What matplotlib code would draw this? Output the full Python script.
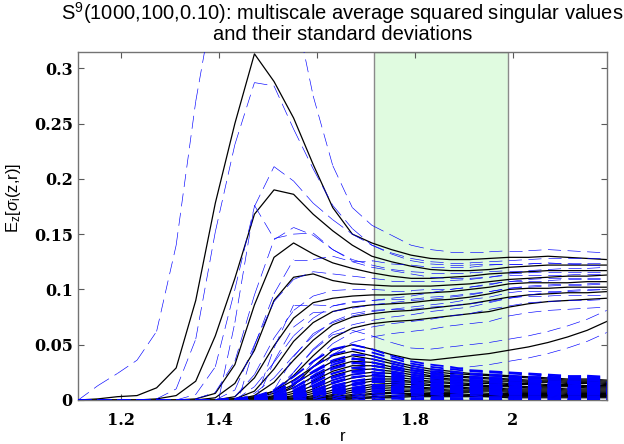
import numpy as np
import matplotlib
matplotlib.use("Agg")
import matplotlib.pyplot as plt
from matplotlib.collections import LineCollection

plt.rcParams['lines.scale_dashes'] = False
plt.rcParams['mathtext.fontset'] = 'custom'
plt.rcParams['mathtext.rm'] = 'Liberation Sans'
plt.rcParams['mathtext.it'] = 'Liberation Sans:italic'

# scales r (x axis)
r = [1.112, 1.152, 1.192, 1.232, 1.272, 1.312, 1.352, 1.392, 1.432, 1.472,
     1.512, 1.552, 1.592, 1.632, 1.672, 1.712, 1.752, 1.792, 1.832, 1.872,
     1.912, 1.952, 1.992, 2.032, 2.072, 2.112, 2.152, 2.192]

# average squared singular values, in units of 1e-3 (upper, separated curves)
top_means = [
    [0, 1, 3, 4, 11, 29, 90, 178, 250, 313, 288, 255, 213, 174, 150, 142, 136, 131, 128, 127, 127, 128, 129, 129, 130, 129, 128, 127],
    [0, 0, 0, 0, 1, 4, 17, 58, 110, 168, 190, 186, 168, 153, 140, 130, 125, 121, 118, 117, 117, 118, 120, 121, 122, 122, 122, 122],
    [0, 0, 0, 0, 0, 0, 1, 6, 32, 86, 129, 142, 132, 124, 119, 115, 112, 110, 110, 111, 112, 114, 115, 116, 117, 117, 117, 117],
    [0, 0, 0, 0, 0, 0, 0, 2, 15, 45, 90, 111, 114, 108, 105, 104, 103, 103, 103, 104, 105, 107, 109, 110, 111, 112, 112, 113],
    [0, 0, 0, 0, 0, 0, 0, 0, 3, 20, 49, 74, 88, 92, 94, 95, 95, 96, 97, 98, 100, 102, 105, 106, 106, 106, 107, 107],
    [0, 0, 0, 0, 0, 0, 0, 0, 1, 8, 28, 53, 70, 80, 84, 86, 87, 88, 90, 91, 93, 96, 100, 101, 101, 102, 102, 102],
    [0, 0, 0, 0, 0, 0, 0, 0, 0, 4, 16, 36, 54, 68, 75, 78, 80, 81, 83, 85, 87, 90, 93, 95, 96, 97, 97, 98],
    [0, 0, 0, 0, 0, 0, 0, 0, 0, 2, 8, 22, 40, 56, 65, 69, 71, 72, 74, 76, 78, 80, 84, 87, 89, 90, 91, 92],
    [0, 0, 0, 0, 0, 0, 0, 0, 0, 0, 3, 13, 30, 45, 50, 46, 41, 37, 36, 38, 40, 42, 45, 48, 52, 57, 63, 71],
]

# standard deviations of the curves above (1e-3)
top_stds = [
    [0, 12, 21, 32, 51, 111, 180, 192, 180, 137, 142, 105, 62, 38, 24, 16, 13, 9, 8, 7, 7, 6, 6, 6, 6, 6, 6, 6],
    [0, 0, 0, 0, 0, 6, 38, 94, 121, 119, 94, 59, 41, 23, 15, 10, 8, 7, 7, 7, 7, 7, 6, 6, 6, 6, 6, 6],
    [0, 0, 0, 0, 0, 0, 4, 24, 68, 89, 82, 56, 46, 39, 31, 25, 20, 16, 13, 11, 10, 9, 8, 7, 7, 7, 7, 7],
    [0, 0, 0, 0, 0, 0, 1, 5, 20, 50, 55, 45, 35, 28, 22, 18, 15, 13, 12, 11, 10, 9, 8, 7, 7, 7, 7, 7],
    [0, 0, 0, 0, 0, 0, 0, 0, 6, 30, 40, 35, 28, 22, 18, 15, 13, 12, 11, 10, 9, 9, 8, 7, 7, 7, 7, 7],
    [0, 0, 0, 0, 0, 0, 0, 0, 2, 15, 28, 28, 24, 19, 16, 14, 12, 11, 10, 9, 9, 8, 8, 7, 7, 7, 7, 7],
    [0, 0, 0, 0, 0, 0, 0, 0, 0, 8, 18, 22, 20, 17, 14, 12, 11, 10, 10, 9, 9, 8, 8, 7, 7, 7, 7, 7],
    [0, 0, 0, 0, 0, 0, 0, 0, 0, 4, 12, 18, 18, 15, 13, 12, 11, 10, 10, 9, 9, 9, 8, 8, 8, 8, 8, 8],
    [0, 0, 0, 0, 0, 0, 0, 0, 0, 0, 5, 12, 15, 14, 13, 12, 11, 10, 10, 10, 10, 10, 10, 10, 10, 10, 10, 10],
]

# the dense bundle of small singular values near the bottom (1e-3)
band_means = [
    [0, 0, 0, 0, 0, 0, 0, 0, 1, 3, 8, 18, 30, 40, 44, 40, 35, 31, 28, 26, 24, 23, 22, 21, 20, 19, 19, 18],
    [0, 0, 0, 0, 0, 0, 0, 0, 1, 2, 6, 14, 25, 35, 40, 37, 33, 29, 26, 24, 23, 22, 21, 20, 19, 18, 18, 17],
    [0, 0, 0, 0, 0, 0, 0, 0, 0, 1, 4, 11, 21, 30, 35, 34, 30, 27, 24, 22, 21, 20, 19, 18, 18, 17, 17, 16],
    [0, 0, 0, 0, 0, 0, 0, 0, 0, 1, 3, 8, 17, 26, 31, 31, 28, 25, 22, 21, 20, 19, 18, 17, 17, 16, 16, 15],
    [0, 0, 0, 0, 0, 0, 0, 0, 0, 0, 2, 6, 13, 22, 27, 28, 26, 23, 21, 19, 18, 17, 17, 16, 16, 15, 15, 14],
    [0, 0, 0, 0, 0, 0, 0, 0, 0, 0, 1, 4, 10, 18, 23, 25, 24, 21, 19, 18, 17, 16, 15, 15, 14, 14, 13, 13],
    [0, 0, 0, 0, 0, 0, 0, 0, 0, 0, 1, 3, 8, 15, 20, 22, 21, 19, 17, 16, 15, 15, 14, 14, 13, 13, 12, 12],
    [0, 0, 0, 0, 0, 0, 0, 0, 0, 0, 0, 2, 6, 12, 17, 19, 19, 17, 16, 15, 14, 13, 13, 12, 12, 12, 11, 11],
    [0, 0, 0, 0, 0, 0, 0, 0, 0, 0, 0, 1, 4, 9, 14, 17, 17, 16, 14, 13, 13, 12, 12, 11, 11, 10, 10, 10],
    [0, 0, 0, 0, 0, 0, 0, 0, 0, 0, 0, 1, 3, 7, 11, 14, 15, 14, 13, 12, 11, 11, 10, 10, 10, 9, 9, 9],
    [0, 0, 0, 0, 0, 0, 0, 0, 0, 0, 0, 0, 2, 5, 9, 12, 13, 12, 11, 11, 10, 10, 9, 9, 9, 8, 8, 8],
    [0, 0, 0, 0, 0, 0, 0, 0, 0, 0, 0, 0, 1, 4, 7, 10, 11, 11, 10, 9, 9, 9, 8, 8, 8, 7, 7, 7],
    [0, 0, 0, 0, 0, 0, 0, 0, 0, 0, 0, 0, 1, 3, 5, 8, 9, 9, 9, 8, 8, 8, 7, 7, 7, 6, 6, 6],
    [0, 0, 0, 0, 0, 0, 0, 0, 0, 0, 0, 0, 0, 2, 4, 6, 7, 8, 7, 7, 7, 6, 6, 6, 6, 5, 5, 5],
    [0, 0, 0, 0, 0, 0, 0, 0, 0, 0, 0, 0, 0, 1, 3, 5, 6, 6, 6, 6, 5, 5, 5, 5, 5, 4, 4, 4],
    [0, 0, 0, 0, 0, 0, 0, 0, 0, 0, 0, 0, 0, 1, 2, 3, 4, 5, 5, 5, 4, 4, 4, 4, 4, 4, 3, 3],
    [0, 0, 0, 0, 0, 0, 0, 0, 0, 0, 0, 0, 0, 0, 1, 2, 3, 4, 4, 4, 4, 3, 3, 3, 3, 3, 3, 3],
    [0, 0, 0, 0, 0, 0, 0, 0, 0, 0, 0, 0, 0, 0, 1, 2, 2, 3, 3, 3, 3, 3, 2, 2, 2, 2, 2, 2],
]
# typical spread of the bundle curves (1e-3)
band_std = [0, 0, 0, 0, 0, 0, 0, 0, 0, 0, 1, 3, 5, 6, 6, 6, 5, 4, 4, 4, 3, 3, 3, 3, 3, 3, 3, 3]

xticks = [1.2, 1.4, 1.6, 1.8, 2.0]
xticklabels = ['1.2', '1.4', '1.6', '1.8', '2']
yticks = [0, 0.05, 0.1, 0.15, 0.2, 0.25, 0.3]
yticklabels = ['0', '0.05', '0.1', '0.15', '0.2', '0.25', '0.3']
region = (1.716, 1.990)

fig = plt.figure(figsize=(6.24, 4.44), dpi=100)
ax = fig.add_axes([0.1255, 0.0991, 0.8468, 0.7831])

ax.axvspan(region[0], region[1], facecolor='#e0fbe0', edgecolor='#8a8a8a', linewidth=1.0, zorder=0)


def dashed(y, lw):
    # matlab style: the dash pattern restarts on every segment
    pts = np.column_stack([r, y])
    segs = np.stack([pts[:-1], pts[1:]], axis=1)
    lc = LineCollection(segs, colors='#0000ff', linewidths=lw,
                        linestyles=[(0, (9.4, 4.7))], zorder=3)
    lc.set_capstyle('butt')
    ax.add_collection(lc)


top_m = [np.array(m) / 1000 for m in top_means]
top_s = [np.array(s) / 1000 for s in top_stds]
band_m = [np.array(m) / 1000 for m in band_means]
band_s = np.array(band_std) / 1000

for m in top_m + band_m:
    ax.plot(r, m, color='k', lw=0.9, zorder=2)
for m, s in zip(top_m, top_s):
    dashed(m + s, 0.45)
    dashed(m - s, 0.45)
for m in band_m:
    dashed(m + band_s, 1.3)
    dashed(m - band_s, 1.3)

ax.set_xlim(1.112, 2.192)
ax.set_ylim(0, 0.3144)
ax.set_xticks(xticks)
ax.set_xticklabels(xticklabels)
ax.set_yticks(yticks)
ax.set_yticklabels(yticklabels)
ax.tick_params(direction='in', length=4, width=0.8, color='0.35', top=True, right=True,
               labelsize=11.5)
ax.tick_params(axis='x', pad=9)
ax.tick_params(axis='y', pad=4)
for lab in ax.get_xticklabels() + ax.get_yticklabels():
    lab.set_fontfamily('DejaVu Serif')
    lab.set_fontweight('bold')
for sp in ax.spines.values():
    sp.set_color('0.45')
    sp.set_linewidth(1.0)

ax.set_title('S$^\\mathregular{9}$(1000,100,0.10): multiscale average squared singular values\n'
             'and their standard deviations', fontsize=14.5, family='Liberation Sans',
             linespacing=0.9, pad=9)
ax.set_xlabel('r', fontsize=12, family='Liberation Sans')
ax.xaxis.set_label_coords(0.5, -0.083)
ax.set_ylabel('E$_\\mathregular{z}$[$\\sigma_\\mathregular{i}$(z,r)]', fontsize=12, family='Liberation Sans')
ax.yaxis.set_label_coords(-0.105, 0.58)

fig.savefig('out.png', dpi=100)
